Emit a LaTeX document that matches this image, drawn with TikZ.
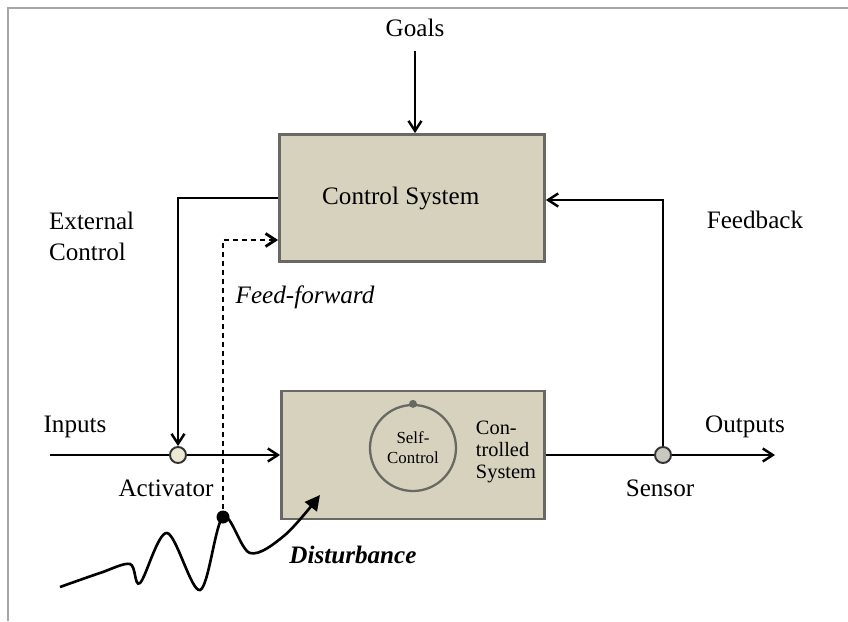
\documentclass[tikz,border=0pt]{standalone}
\usepackage{fontspec}
\setmainfont{Liberation Serif}
\usepackage{xcolor}
\usepackage{tikz}
\usetikzlibrary{arrows.meta,
                positioning,
                shapes.geometric}

\definecolor{boxfill}{RGB}{214,210,190}
\definecolor{boxline}{RGB}{105,105,100}
\definecolor{actfill}{RGB}{236,232,210}
\definecolor{sensfill}{RGB}{200,200,192}

\begin{document}
\begin{tikzpicture}[x=0.2mm,y=-0.2mm,
    line width=1.4pt,
    >={Straight Barb[length=2mm,width=2.6mm]},
    every node/.style={font=\fontsize{14.3}{17.6}\selectfont},
    block/.style={draw=boxline,fill=boxfill,line width=1.6pt},
    joint/.style={circle,draw=black!80,line width=1.1pt,inner sep=0pt,minimum size=3.2mm},
    ffwd/.style={line width=1.6pt,dash pattern=on 1.1mm off 0.7mm}]
\useasboundingbox (0,0) rectangle (848,621);
\draw[gray!70,line width=1.6pt] (8,621) -- (8,8) -- (848,8);

% blocks
\node[block,minimum width=53mm,minimum height=25.4mm] (ctrl) at (412,198) {\hspace*{-4.5mm}Control System};
\node[block,minimum width=52.6mm,minimum height=25.6mm] (plant) at (413,455) {};
\node[circle,draw=boxline,line width=1.3pt,minimum size=17.2mm,inner sep=0pt,align=center,
      font=\fontsize{9.6}{11.5}\selectfont] (self) at (413,448) {Self-\\Control};
\fill[boxline] (self.north) circle (0.8mm);
\node[align=left,font=\fontsize{11.6}{12.6}\selectfont] (ctxt) at (506,452) {Con-\\trolled\\System};

% junctions
\node[joint,fill=actfill] (act) at (178,455) {};
\node[joint,fill=sensfill] (sens) at (663,455) {};
\coordinate (in) at (50,455);
\coordinate (out) at (775,455);

% labels
\node (goals) at (415,28) {Goals};
\node[align=left,anchor=west] (ext) at (42,236) {External\\Control};
\node (fb) at (755,220) {Feedback};
\node (inp) at (75,427) {Inputs};
\node (outp) at (745,427) {Outputs};
\node (actl) at (166,488) {Activator};
\node (sensl) at (660,488) {Sensor};
\node[font=\fontsize{14.3}{17.6}\selectfont\itshape] (ffl) at (305,297) {Feed-forward};
\node[font=\fontsize{14.3}{17.6}\selectfont\bfseries\itshape] (distl) at (353,555) {Disturbance};

% signal lines
\draw[->] ([yshift=-1.4mm]goals.south) -- (goals.south |- ctrl.north);
\draw (in) -- (act);
\draw[->] (act) -- (act -| plant.west);
\draw[->] (ctrl.west) -| (act.north);
\draw (plant.east |- sens) -- (sens);
\draw[->] (sens) -- (out);
\draw[->] (sens.north) |- ([yshift=-0.4mm]ctrl.east);

% disturbance
\draw[-{Triangle[length=3mm,width=3mm]},line width=1.5pt]
  plot[smooth,tension=0.55] coordinates {(60,587) (100,573) (130,564) (140,583) (167,533)
      (200,590) (223,517) (250,553) (285,535) (320,495)};
\node[circle,fill=black,inner sep=0pt,minimum size=2.6mm] (dist) at (223,517) {};
\draw[->,ffwd] (dist) |- ([yshift=-8.4mm]ctrl.west);
\end{tikzpicture}
\end{document}
